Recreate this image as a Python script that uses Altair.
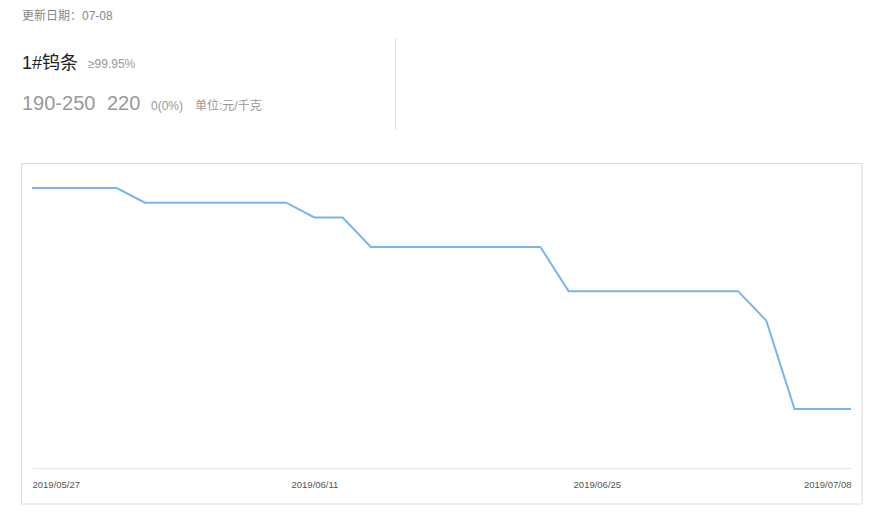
import altair as alt
import pandas as pd

# ---- data ----
dates = [
    "2019/05/27", "2019/05/28", "2019/05/29", "2019/05/30", "2019/05/31",
    "2019/06/03", "2019/06/04", "2019/06/05", "2019/06/06",
    "2019/06/10", "2019/06/11", "2019/06/12", "2019/06/13", "2019/06/14",
    "2019/06/17", "2019/06/18", "2019/06/19", "2019/06/20", "2019/06/21",
    "2019/06/24", "2019/06/25", "2019/06/26", "2019/06/27", "2019/06/28",
    "2019/07/01", "2019/07/02", "2019/07/03", "2019/07/04", "2019/07/05",
    "2019/07/08",
]
prices = [
    257.5, 257.5, 257.5, 257.5, 255,
    255, 255, 255, 255,
    255, 252.5, 252.5, 247.5, 247.5,
    247.5, 247.5, 247.5, 247.5, 247.5,
    240, 240, 240, 240, 240,
    240, 240, 235, 220, 220,
    220,
]
tick_dates = ["2019/05/27", "2019/06/11", "2019/06/25", "2019/07/08"]

update_text = "更新日期：07-08"
product_name = "1#钨条"
purity = "≥99.95%"
price_range = "190-250"
avg_price = "220"
change_text = "0(0%)"
unit_text = "单位:元/千克"

df = pd.DataFrame({"date": dates, "price": prices})

FONT = "Arial, Liberation Sans, Noto Sans CJK SC, sans-serif"
W, H = 861, 503
one = alt.Data(values=[{}])


def txt(s, x, y, size, color):
    return alt.Chart(one).mark_text(
        align="left", baseline="alphabetic", fontSize=size, color=color, font=FONT
    ).encode(x=alt.value(x), y=alt.value(y), text=alt.value(s))


frame = alt.Chart(one).mark_rect(filled=False, stroke="#dcdcdc", strokeWidth=1).encode(
    x=alt.value(13.5), x2=alt.value(854), y=alt.value(155.5), y2=alt.value(496)
)
sep = alt.Chart(one).mark_rule(color="#e0e0e0", strokeWidth=1).encode(
    x=alt.value(387.5), y=alt.value(30), y2=alt.value(122)
)

line = alt.Chart(df).mark_line(color="#7cb5ec", strokeWidth=2).encode(
    x=alt.X(
        "date:O",
        sort=None,
        scale=alt.Scale(type="point", range=[24, 843], padding=0),
        axis=alt.Axis(
            values=tick_dates,
            title=None,
            orient="bottom",
            offset=-43,
            ticks=False,
            grid=False,
            domainColor="#e6e6e6",
            labelAngle=0,
            labelFlush=True,
            labelPadding=11,
            labelFontSize=9.5,
            labelColor="#555555",
            labelFont=FONT,
            zindex=1,
        ),
    ),
    y=alt.Y(
        "price:Q",
        scale=alt.Scale(domain=[220, 257.5], range=[401, 180], zero=False, nice=False),
        axis=None,
    ),
)

chart = alt.layer(
    frame,
    sep,
    txt(update_text, 14, 12, 12, "#888888"),
    txt(product_name, 14, 61, 18, "#222222"),
    txt(purity, 80, 60, 12, "#999999"),
    txt(price_range, 14, 102, 20, "#999999"),
    txt(avg_price, 99, 102, 20, "#999999"),
    txt(change_text, 143, 102, 12, "#999999"),
    txt(unit_text, 187, 102, 12, "#999999"),
    line,
).properties(
    width=W, height=H, autosize=alt.AutoSizeParams(type="none"), padding=0,
    background="white",
).configure_view(stroke=None)

chart.save("out.html", embed_options={"renderer": "svg", "actions": False})
